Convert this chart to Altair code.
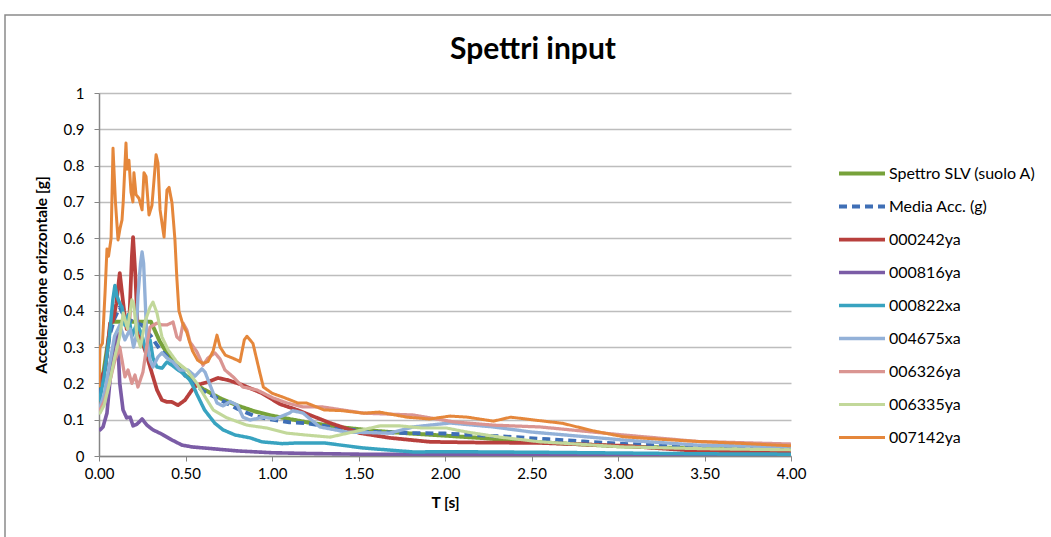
import altair as alt
import pandas as pd

names = ["Spettro SLV (suolo A)", "Media Acc. (g)", "000242ya", "000816ya", "000822xa",
         "004675xa", "006326ya", "006335ya", "007142ya"]
colors = ["#77A23A", "#3F6FB6", "#B8403D", "#7B5CA6", "#38A3C0",
          "#93B1D8", "#DA9592", "#C2D89A", "#E5873B"]
widths = [4, 3, 1.5, 1.5, 1.5, 1.5, 1.5, 1.5, 1.5]
dashes = [[1, 0], [8, 5], [1, 0], [1, 0], [1, 0], [1, 0], [1, 0], [1, 0], [1, 0]]
chart_title = "Spettri input"

# Spettro SLV (suolo A)
t_slv = [0, 0.035, 0.07, 0.3, 0.35, 0.4, 0.5, 0.6, 0.7, 0.8, 0.9, 1.0, 1.2, 1.4, 1.6, 1.8,
         2.0, 2.2, 2.5, 3.0, 3.5, 4.0]
v_slv = [0.15, 0.26, 0.37, 0.37, 0.317, 0.278, 0.222, 0.185, 0.159, 0.139, 0.123, 0.111,
         0.093, 0.079, 0.069, 0.062, 0.056, 0.050, 0.039, 0.027, 0.020, 0.015]

# Media Acc. (g)
t_med = [0, 0.03, 0.06, 0.09, 0.12, 0.15, 0.2, 0.25, 0.3, 0.35, 0.4, 0.45, 0.5, 0.55, 0.6,
         0.7, 0.8, 0.9, 1.0, 1.1, 1.2, 1.3, 1.4, 1.5, 1.6, 1.8, 2.0, 2.2, 2.4, 2.6, 2.8, 3.0,
         3.2, 3.4, 3.6, 3.8, 4.0]
v_med = [0.165, 0.22, 0.33, 0.38, 0.41, 0.38, 0.37, 0.36, 0.33, 0.295, 0.27, 0.25, 0.22,
         0.2, 0.18, 0.155, 0.13, 0.11, 0.1, 0.093, 0.09, 0.083, 0.075, 0.07, 0.066, 0.063,
         0.062, 0.057, 0.052, 0.046, 0.04, 0.034, 0.03, 0.028, 0.025, 0.022, 0.02]

# 000242ya
t_242 = [0, 0.006, 0.035, 0.05, 0.064, 0.08, 0.1, 0.12, 0.133, 0.145, 0.16, 0.175, 0.19,
         0.197, 0.21, 0.22, 0.225, 0.24, 0.26, 0.28, 0.306, 0.335, 0.364, 0.393, 0.42, 0.457,
         0.497, 0.538, 0.566, 0.6, 0.63, 0.688, 0.746, 0.827, 0.942, 1.046, 1.145, 1.335,
         1.509, 1.68, 1.913, 2.2, 2.55, 3.03, 3.46, 4.0]
v_242 = [0.19, 0.21, 0.237, 0.30, 0.366, 0.37, 0.42, 0.504, 0.45, 0.40, 0.35, 0.37, 0.55,
         0.603, 0.50, 0.39, 0.32, 0.33, 0.30, 0.27, 0.228, 0.182, 0.154, 0.149, 0.149, 0.14,
         0.154, 0.182, 0.196, 0.20, 0.204, 0.215, 0.209, 0.196, 0.173, 0.143, 0.127, 0.091,
         0.063, 0.05, 0.039, 0.037, 0.036, 0.028, 0.014, 0.013]

# 000816ya
t_816 = [0, 0.006, 0.023, 0.046, 0.064, 0.081, 0.095, 0.104, 0.11, 0.12, 0.139, 0.16, 0.18,
         0.197, 0.22, 0.249, 0.277, 0.312, 0.364, 0.422, 0.48, 0.538, 0.61, 0.8, 1.0, 1.2,
         1.5, 2.0, 2.5, 3.0, 3.5, 4.0]
v_816 = [0.07, 0.072, 0.08, 0.118, 0.21, 0.284, 0.33, 0.34, 0.30, 0.20, 0.127, 0.105, 0.107,
         0.083, 0.088, 0.102, 0.085, 0.072, 0.06, 0.044, 0.03, 0.025, 0.022, 0.014, 0.009,
         0.007, 0.005, 0.004, 0.003, 0.003, 0.002, 0.002]

# 000822xa
t_822 = [0, 0.006, 0.03, 0.06, 0.08, 0.092, 0.104, 0.12, 0.133, 0.15, 0.17, 0.19, 0.22, 0.25,
         0.277, 0.295, 0.312, 0.335, 0.364, 0.393, 0.422, 0.457, 0.486, 0.526, 0.555, 0.566,
         0.61, 0.67, 0.717, 0.786, 0.873, 0.942, 1.06, 1.15, 1.3, 1.53, 1.82, 2.0, 2.6, 3.07,
         3.5, 4.0]
v_822 = [0.15, 0.16, 0.22, 0.33, 0.43, 0.47, 0.44, 0.42, 0.41, 0.36, 0.39, 0.33, 0.366, 0.33,
         0.278, 0.32, 0.27, 0.245, 0.242, 0.259, 0.25, 0.237, 0.228, 0.209, 0.182, 0.17,
         0.127, 0.09, 0.072, 0.058, 0.05, 0.039, 0.034, 0.036, 0.036, 0.022, 0.011, 0.012,
         0.01, 0.008, 0.006, 0.005]

# 004675xa
t_675 = [0, 0.006, 0.03, 0.06, 0.09, 0.12, 0.15, 0.18, 0.2, 0.215, 0.225, 0.24, 0.249, 0.258,
         0.266, 0.277, 0.295, 0.312, 0.341, 0.364, 0.393, 0.428, 0.468, 0.514, 0.555, 0.595,
         0.613, 0.653, 0.682, 0.717, 0.757, 0.8, 0.832, 0.873, 0.948, 1.017, 1.1, 1.12, 1.18,
         1.277, 1.43, 1.68, 1.815, 2.03, 2.28, 2.5, 3.03, 3.46, 4.0]
v_675 = [0.14, 0.135, 0.17, 0.25, 0.33, 0.36, 0.32, 0.35, 0.30, 0.33, 0.44, 0.53, 0.562, 0.53,
         0.44, 0.32, 0.264, 0.245, 0.273, 0.284, 0.27, 0.259, 0.237, 0.237, 0.22, 0.24, 0.231,
         0.182, 0.146, 0.138, 0.15, 0.14, 0.107, 0.099, 0.107, 0.102, 0.118, 0.125, 0.118,
         0.08, 0.066, 0.063, 0.08, 0.091, 0.08, 0.066, 0.044, 0.03, 0.025]

# 006326ya
t_326 = [0, 0.006, 0.03, 0.06, 0.09, 0.12, 0.14, 0.15, 0.168, 0.19, 0.208, 0.225, 0.254, 0.275,
         0.295, 0.335, 0.364, 0.393, 0.428, 0.45, 0.468, 0.486, 0.508, 0.526, 0.566, 0.601,
         0.63, 0.67, 0.7, 0.728, 0.775, 0.832, 0.913, 1.006, 1.087, 1.18, 1.295, 1.53, 1.815,
         2.05, 2.28, 2.55, 3.03, 3.46, 4.0]
v_326 = [0.13, 0.127, 0.15, 0.20, 0.26, 0.30, 0.245, 0.218, 0.237, 0.20, 0.223, 0.19, 0.231,
         0.30, 0.355, 0.366, 0.361, 0.361, 0.369, 0.328, 0.32, 0.366, 0.347, 0.314, 0.287, 0.25,
         0.27, 0.284, 0.267, 0.237, 0.218, 0.19, 0.182, 0.16, 0.146, 0.135, 0.135, 0.118,
         0.113, 0.094, 0.085, 0.08, 0.058, 0.04, 0.033]

# 006335ya
t_335 = [0, 0.006, 0.03, 0.06, 0.09, 0.12, 0.14, 0.165, 0.19, 0.2, 0.22, 0.24, 0.266, 0.295,
         0.312, 0.335, 0.364, 0.4, 0.45, 0.508, 0.566, 0.613, 0.66, 0.74, 0.855, 0.971, 1.087,
         1.19, 1.335, 1.468, 1.624, 1.74, 1.87, 2.01, 2.127, 2.318, 2.55, 3.03, 3.5, 4.0]
v_335 = [0.12, 0.118, 0.14, 0.20, 0.27, 0.33, 0.394, 0.35, 0.43, 0.42, 0.33, 0.30, 0.37, 0.41,
         0.424, 0.394, 0.328, 0.292, 0.259, 0.237, 0.2, 0.163, 0.127, 0.105, 0.085, 0.077,
         0.063, 0.058, 0.052, 0.066, 0.083, 0.083, 0.077, 0.077, 0.066, 0.052, 0.039, 0.025,
         0.02, 0.017]

# 007142ya
t_142 = [0, 0.006, 0.02, 0.035, 0.046, 0.055, 0.07, 0.081, 0.095, 0.11, 0.122, 0.133, 0.14,
         0.156, 0.162, 0.173, 0.185, 0.196, 0.202, 0.214, 0.231, 0.249, 0.26, 0.272, 0.289,
         0.306, 0.33, 0.341, 0.353, 0.376, 0.393, 0.405, 0.422, 0.439, 0.45, 0.462, 0.48, 0.497,
         0.508, 0.52, 0.54, 0.57, 0.6, 0.63, 0.66, 0.682, 0.7, 0.73, 0.77, 0.8, 0.815, 0.84,
         0.855, 0.89, 0.93, 0.95, 1.0, 1.075, 1.15, 1.2, 1.3, 1.4, 1.53, 1.62, 1.78, 1.91, 2.03,
         2.13, 2.28, 2.38, 2.5, 2.68, 2.85, 3.03, 3.25, 3.46, 3.7, 4.0]
v_142 = [0.19, 0.30, 0.31, 0.45, 0.57, 0.55, 0.60, 0.848, 0.70, 0.595, 0.628, 0.65, 0.70,
         0.862, 0.79, 0.815, 0.727, 0.70, 0.78, 0.72, 0.71, 0.678, 0.78, 0.77, 0.664, 0.69,
         0.83, 0.807, 0.678, 0.603, 0.733, 0.74, 0.697, 0.595, 0.49, 0.40, 0.37, 0.35, 0.34,
         0.32, 0.29, 0.264, 0.255, 0.26, 0.29, 0.333, 0.30, 0.278, 0.27, 0.264, 0.26, 0.32,
         0.33, 0.31, 0.229, 0.19, 0.173, 0.16, 0.146, 0.146, 0.127, 0.125, 0.118, 0.121, 0.107,
         0.102, 0.11, 0.107, 0.096, 0.107, 0.10, 0.09, 0.07, 0.053, 0.046, 0.04, 0.035, 0.028]

series_t = [t_slv, t_med, t_242, t_816, t_822, t_675, t_326, t_335, t_142]
series_v = [v_slv, v_med, v_242, v_816, v_822, v_675, v_326, v_335, v_142]

rows = []
for i, (n, ts, vs) in enumerate(zip(names, series_t, series_v)):
    for t, v in zip(ts, vs):
        rows.append({"series": n, "T": t, "g": v, "ord": i})
df = pd.DataFrame(rows)

FONT = "Lato"

lines = alt.Chart(df).mark_line(strokeJoin="round", clip=True).encode(
    x=alt.X("T:Q", scale=alt.Scale(domain=[0, 4], nice=False),
            axis=alt.Axis(title="T [s]", values=[0, 0.5, 1, 1.5, 2, 2.5, 3, 3.5, 4],
                          format=".2f", grid=False, tickSize=5, labelPadding=5,
                          labelFlush=False, titlePadding=14)),
    y=alt.Y("g:Q", scale=alt.Scale(domain=[0, 1], nice=False),
            axis=alt.Axis(title="Accelerazione orizzontale [g]",
                          values=[0, 0.1, 0.2, 0.3, 0.4, 0.5, 0.6, 0.7, 0.8, 0.9, 1],
                          format=".1~f", labelFlush=False,
                          grid=True, tickSize=5, labelPadding=10, titlePadding=14)),
    color=alt.Color("series:N", sort=names,
                    scale=alt.Scale(domain=names, range=colors),
                    legend=alt.Legend(title=None, orient="none", legendX=738, legendY=64,
                                      symbolType="stroke", symbolSize=2116,
                                      clipHeight=33, rowPadding=0, labelOffset=2,
                                      labelFont=FONT, labelFontSize=16, labelColor="#000000",
                                      padding=0)),
    strokeDash=alt.StrokeDash("series:N", sort=names,
                              scale=alt.Scale(domain=names, range=dashes),
                              legend=alt.Legend(title=None)),
    strokeWidth=alt.StrokeWidth("series:N", sort=names,
                                scale=alt.Scale(domain=names, range=widths),
                                legend=alt.Legend(title=None)),
    order=alt.Order("ord:Q"),
)

frame = alt.Chart(pd.DataFrame({"a": [0]})).mark_rect(
    fill="transparent", stroke="#8A8A8A", strokeWidth=1.5
).encode(x=alt.value(-94), y=alt.value(-78), x2=alt.value(1000), y2=alt.value(500))

title_mark = alt.Chart(pd.DataFrame({"label": [chart_title]})).mark_text(
    font=FONT, fontSize=30, fontWeight="bold", color="#000000",
    align="center", baseline="middle"
).encode(text="label:N", x=alt.value(434), y=alt.value(-43))

chart = alt.layer(frame, lines, title_mark).properties(
    width=692, height=363,
    autosize=alt.AutoSizeParams(type="none"),
    padding={"left": 99, "top": 93, "right": 260, "bottom": 81},
).configure_view(strokeWidth=0).configure_axis(
    labelFont=FONT, labelFontSize=15, labelColor="#000000",
    titleFont=FONT, titleFontSize=15.5, titleFontWeight="bold", titleColor="#000000",
    domainColor="#868686", tickColor="#868686", gridColor="#BDBDBD", gridWidth=1.5,
    domainWidth=1.5,
)

chart.save("out.html", embed_options={"renderer": "svg", "actions": False})
